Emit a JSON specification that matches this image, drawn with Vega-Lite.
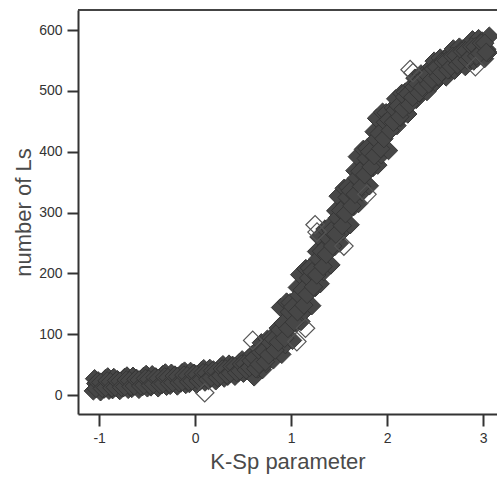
{
  "$schema": "https://vega.github.io/schema/vega-lite/v6.json",
  "autosize": "none",
  "width": 419,
  "height": 404,
  "padding": {"left": 78, "top": 10, "right": 0, "bottom": 63},
  "background": "white",
  "config": {
    "view": {"stroke": null},
    "axis": {
      "grid": false, "tickWidth": 2, "tickColor": "#333",
      "domainColor": "#333", "domainWidth": 2,
      "labelFont": "Liberation Sans", "labelFontSize": 14, "labelColor": "#333", "labelPadding": 5,
      "titleFont": "Liberation Sans", "titleFontSize": 22, "titleFontWeight": "normal", "titleColor": "#4a4a4a"
    },
    "axisX": {"tickSize": 12, "titlePadding": 6},
    "axisY": {"tickSize": 11, "titlePadding": 3}
  },
  "datasets": {
    "main": [
      {"x":-1.06,"y":7},{"x":-1.035,"y":19},{"x":-1.047,"y":27},
      {"x":-1.01,"y":23.5},{"x":-0.985,"y":5.5},{"x":-0.997,"y":17.5},
      {"x":-0.96,"y":13},{"x":-0.935,"y":27},{"x":-0.947,"y":10},
      {"x":-0.91,"y":30},{"x":-0.885,"y":16},{"x":-0.897,"y":8},
      {"x":-0.86,"y":9},{"x":-0.835,"y":21},{"x":-0.847,"y":29},
      {"x":-0.81,"y":25.5},{"x":-0.785,"y":7.5},{"x":-0.797,"y":19.5},
      {"x":-0.76,"y":15},{"x":-0.735,"y":29},{"x":-0.747,"y":12},
      {"x":-0.71,"y":31.5},{"x":-0.685,"y":17.5},{"x":-0.697,"y":9.5},
      {"x":-0.66,"y":11},{"x":-0.635,"y":23},{"x":-0.647,"y":31},
      {"x":-0.61,"y":27.5},{"x":-0.585,"y":9.5},{"x":-0.597,"y":21.5},
      {"x":-0.56,"y":17},{"x":-0.535,"y":31},{"x":-0.547,"y":14},
      {"x":-0.51,"y":34},{"x":-0.485,"y":20},{"x":-0.497,"y":12},
      {"x":-0.46,"y":13.5},{"x":-0.435,"y":25.5},{"x":-0.447,"y":33.5},
      {"x":-0.41,"y":30},{"x":-0.385,"y":12},{"x":-0.397,"y":24},
      {"x":-0.36,"y":20},{"x":-0.335,"y":34},{"x":-0.347,"y":17},
      {"x":-0.31,"y":36.5},{"x":-0.285,"y":22.5},{"x":-0.297,"y":14.5},
      {"x":-0.26,"y":16},{"x":-0.235,"y":28},{"x":-0.247,"y":36},
      {"x":-0.21,"y":33},{"x":-0.185,"y":15},{"x":-0.197,"y":27},
      {"x":-0.16,"y":23},{"x":-0.135,"y":37},{"x":-0.147,"y":20},
      {"x":-0.11,"y":39.5},{"x":-0.085,"y":25.5},{"x":-0.097,"y":17.5},
      {"x":-0.06,"y":19},{"x":-0.035,"y":31},{"x":-0.047,"y":39},
      {"x":-0.01,"y":36},{"x":0.015,"y":18},{"x":0.003,"y":30},
      {"x":0.04,"y":26},{"x":0.065,"y":40},{"x":0.053,"y":23},
      {"x":0.09,"y":43.5},{"x":0.115,"y":29.5},{"x":0.103,"y":21.5},
      {"x":0.14,"y":24},{"x":0.165,"y":36},{"x":0.153,"y":44},
      {"x":0.19,"y":41.5},{"x":0.215,"y":23.5},{"x":0.203,"y":35.5},
      {"x":0.24,"y":32},{"x":0.265,"y":46},{"x":0.253,"y":29},
      {"x":0.29,"y":50},{"x":0.315,"y":36},{"x":0.303,"y":28},
      {"x":0.34,"y":31},{"x":0.365,"y":43},{"x":0.353,"y":51},
      {"x":0.39,"y":49},{"x":0.415,"y":31},{"x":0.403,"y":43},
      {"x":0.44,"y":40},{"x":0.465,"y":54},{"x":0.453,"y":37},
      {"x":0.49,"y":58},{"x":0.515,"y":44},{"x":0.503,"y":36},
      {"x":0.54,"y":40},{"x":0.565,"y":52},{"x":0.553,"y":60},
      {"x":0.59,"y":66},{"x":0.615,"y":30},{"x":0.603,"y":54},
      {"x":0.64,"y":49},{"x":0.665,"y":77},{"x":0.653,"y":43},
      {"x":0.69,"y":86},{"x":0.715,"y":58},{"x":0.703,"y":42},
      {"x":0.74,"y":52},{"x":0.765,"y":76},{"x":0.753,"y":92},
      {"x":0.79,"y":94},{"x":0.815,"y":58},{"x":0.803,"y":82},
      {"x":0.84,"y":82},{"x":0.865,"y":110},{"x":0.853,"y":76},
      {"x":0.89,"y":144},{"x":0.915,"y":95},{"x":0.903,"y":67},
      {"x":0.94,"y":83},{"x":0.965,"y":125},{"x":0.953,"y":153},
      {"x":0.99,"y":152},{"x":1.015,"y":90},{"x":1.003,"y":132},
      {"x":1.04,"y":128},{"x":1.065,"y":177},{"x":1.053,"y":118},
      {"x":1.09,"y":198},{"x":1.115,"y":149},{"x":1.103,"y":121},
      {"x":1.14,"y":138},{"x":1.165,"y":180},{"x":1.153,"y":208},
      {"x":1.19,"y":209},{"x":1.215,"y":147},{"x":1.203,"y":189},
      {"x":1.24,"y":187},{"x":1.265,"y":236},{"x":1.253,"y":177},
      {"x":1.29,"y":260},{"x":1.315,"y":211},{"x":1.303,"y":183},
      {"x":1.34,"y":203},{"x":1.365,"y":245},{"x":1.353,"y":273},
      {"x":1.39,"y":276},{"x":1.415,"y":214},{"x":1.403,"y":256},
      {"x":1.44,"y":254},{"x":1.465,"y":303},{"x":1.453,"y":244},
      {"x":1.49,"y":327},{"x":1.515,"y":278},{"x":1.503,"y":250},
      {"x":1.54,"y":270},{"x":1.565,"y":312},{"x":1.553,"y":340},
      {"x":1.59,"y":342},{"x":1.615,"y":280},{"x":1.603,"y":322},
      {"x":1.64,"y":320},{"x":1.665,"y":369},{"x":1.653,"y":310},
      {"x":1.69,"y":392},{"x":1.715,"y":343},{"x":1.703,"y":315},
      {"x":1.74,"y":334},{"x":1.765,"y":376},{"x":1.753,"y":404},
      {"x":1.79,"y":406},{"x":1.815,"y":344},{"x":1.803,"y":386},
      {"x":1.84,"y":384},{"x":1.865,"y":433},{"x":1.853,"y":374},
      {"x":1.89,"y":455},{"x":1.915,"y":406},{"x":1.903,"y":378},
      {"x":1.94,"y":395},{"x":1.965,"y":437},{"x":1.953,"y":465},
      {"x":1.99,"y":464},{"x":2.015,"y":402},{"x":2.003,"y":444},
      {"x":2.04,"y":444},{"x":2.065,"y":472},{"x":2.053,"y":438},
      {"x":2.09,"y":487},{"x":2.115,"y":459},{"x":2.103,"y":443},
      {"x":2.14,"y":456},{"x":2.165,"y":480},{"x":2.153,"y":496},
      {"x":2.19,"y":498},{"x":2.215,"y":462},{"x":2.203,"y":486},
      {"x":2.24,"y":487},{"x":2.265,"y":509},{"x":2.253,"y":482},
      {"x":2.29,"y":521},{"x":2.315,"y":499},{"x":2.303,"y":486},
      {"x":2.34,"y":496},{"x":2.365,"y":515},{"x":2.353,"y":528},
      {"x":2.39,"y":528},{"x":2.415,"y":499},{"x":2.403,"y":519},
      {"x":2.44,"y":518},{"x":2.465,"y":540},{"x":2.453,"y":513},
      {"x":2.49,"y":549},{"x":2.515,"y":527},{"x":2.503,"y":514},
      {"x":2.54,"y":522},{"x":2.565,"y":541},{"x":2.553,"y":554},
      {"x":2.59,"y":552},{"x":2.615,"y":523},{"x":2.603,"y":543},
      {"x":2.64,"y":540},{"x":2.665,"y":562},{"x":2.653,"y":535},
      {"x":2.69,"y":569},{"x":2.715,"y":547},{"x":2.703,"y":534},
      {"x":2.74,"y":540},{"x":2.765,"y":559},{"x":2.753,"y":572},
      {"x":2.79,"y":569},{"x":2.815,"y":540},{"x":2.803,"y":560},
      {"x":2.84,"y":556},{"x":2.865,"y":578},{"x":2.853,"y":551},
      {"x":2.89,"y":584},{"x":2.915,"y":562},{"x":2.903,"y":549},
      {"x":2.94,"y":554},{"x":2.965,"y":573},{"x":2.953,"y":586},
      {"x":2.99,"y":582},{"x":3.015,"y":553},{"x":3.003,"y":573},
      {"x":3.04,"y":568},{"x":3.065,"y":590},{"x":3.053,"y":563},
      {"x":-1.033,"y":11},{"x":-1.017,"y":22},
      {"x":-0.983,"y":21},{"x":-0.967,"y":11},
      {"x":-0.933,"y":12.5},{"x":-0.917,"y":23.5},
      {"x":-0.883,"y":22},{"x":-0.867,"y":12},
      {"x":-0.833,"y":13},{"x":-0.817,"y":24},
      {"x":-0.783,"y":23},{"x":-0.767,"y":13},
      {"x":-0.733,"y":14},{"x":-0.717,"y":25},
      {"x":-0.683,"y":24},{"x":-0.667,"y":14},
      {"x":-0.633,"y":15},{"x":-0.617,"y":26},
      {"x":-0.583,"y":25},{"x":-0.567,"y":15},
      {"x":-0.533,"y":16.5},{"x":-0.517,"y":27.5},
      {"x":-0.483,"y":26},{"x":-0.467,"y":16},
      {"x":-0.433,"y":18},{"x":-0.417,"y":29},
      {"x":-0.383,"y":27.5},{"x":-0.367,"y":17.5},
      {"x":-0.333,"y":19},{"x":-0.317,"y":30},
      {"x":-0.283,"y":29},{"x":-0.267,"y":19},
      {"x":-0.233,"y":20.5},{"x":-0.217,"y":31.5},
      {"x":-0.183,"y":30.5},{"x":-0.167,"y":20.5},
      {"x":-0.133,"y":22},{"x":-0.117,"y":33},
      {"x":-0.083,"y":32},{"x":-0.067,"y":22},
      {"x":-0.033,"y":23.5},{"x":-0.017,"y":34.5},
      {"x":0.017,"y":33.5},{"x":0.033,"y":23.5},
      {"x":0.067,"y":26},{"x":0.083,"y":37},
      {"x":0.117,"y":36},{"x":0.133,"y":26},
      {"x":0.167,"y":29},{"x":0.183,"y":40},
      {"x":0.217,"y":39},{"x":0.233,"y":29},
      {"x":0.267,"y":32},{"x":0.283,"y":43},
      {"x":0.317,"y":43},{"x":0.333,"y":33},
      {"x":0.367,"y":36},{"x":0.383,"y":47},
      {"x":0.417,"y":47},{"x":0.433,"y":37},
      {"x":0.467,"y":40},{"x":0.483,"y":51},
      {"x":0.517,"y":51.5},{"x":0.533,"y":41.5},
      {"x":0.567,"y":45.5},{"x":0.583,"y":56.5},
      {"x":0.617,"y":61.5},{"x":0.633,"y":43.5},
      {"x":0.667,"y":50.5},{"x":0.683,"y":70.5},
      {"x":0.717,"y":73},{"x":0.733,"y":55},
      {"x":0.767,"y":66},{"x":0.783,"y":86},
      {"x":0.817,"y":92},{"x":0.833,"y":74},
      {"x":0.867,"y":87},{"x":0.883,"y":107},
      {"x":0.917,"y":118.5},{"x":0.933,"y":93.5},
      {"x":0.967,"y":109.5},{"x":0.983,"y":136.5},
      {"x":1.017,"y":145},{"x":1.033,"y":120},
      {"x":1.067,"y":137},{"x":1.083,"y":164},
      {"x":1.117,"y":173},{"x":1.133,"y":148},
      {"x":1.167,"y":165.5},{"x":1.183,"y":192.5},
      {"x":1.217,"y":203},{"x":1.233,"y":178},
      {"x":1.267,"y":197.5},{"x":1.283,"y":224.5},
      {"x":1.317,"y":236.5},{"x":1.333,"y":211.5},
      {"x":1.367,"y":231.5},{"x":1.383,"y":258.5},
      {"x":1.417,"y":270},{"x":1.433,"y":245},
      {"x":1.467,"y":264.5},{"x":1.483,"y":291.5},
      {"x":1.517,"y":303.5},{"x":1.533,"y":278.5},
      {"x":1.567,"y":298},{"x":1.583,"y":325},
      {"x":1.617,"y":336},{"x":1.633,"y":311},
      {"x":1.667,"y":330},{"x":1.683,"y":357},
      {"x":1.717,"y":368},{"x":1.733,"y":343},
      {"x":1.767,"y":362},{"x":1.783,"y":389},
      {"x":1.817,"y":400},{"x":1.833,"y":375},
      {"x":1.867,"y":393.5},{"x":1.883,"y":420.5},
      {"x":1.917,"y":430},{"x":1.933,"y":405},
      {"x":1.967,"y":421.5},{"x":1.983,"y":448.5},
      {"x":2.017,"y":453},{"x":2.033,"y":435},
      {"x":2.067,"y":448.5},{"x":2.083,"y":468.5},
      {"x":2.117,"y":475.5},{"x":2.133,"y":457.5},
      {"x":2.167,"y":470},{"x":2.183,"y":490},
      {"x":2.217,"y":495.5},{"x":2.233,"y":477.5},
      {"x":2.267,"y":489.5},{"x":2.283,"y":506.5},
      {"x":2.317,"y":512},{"x":2.333,"y":497},
      {"x":2.367,"y":505.5},{"x":2.383,"y":522.5},
      {"x":2.417,"y":526.5},{"x":2.433,"y":511.5},
      {"x":2.467,"y":519},{"x":2.483,"y":536},
      {"x":2.517,"y":539},{"x":2.533,"y":524},
      {"x":2.567,"y":530.5},{"x":2.583,"y":547.5},
      {"x":2.617,"y":549.5},{"x":2.633,"y":534.5},
      {"x":2.667,"y":540},{"x":2.683,"y":557},
      {"x":2.717,"y":558},{"x":2.733,"y":543},
      {"x":2.767,"y":548},{"x":2.783,"y":565},
      {"x":2.817,"y":566},{"x":2.833,"y":551},
      {"x":2.867,"y":555.5},{"x":2.883,"y":572.5},
      {"x":2.917,"y":572.5},{"x":2.933,"y":557.5},
      {"x":2.967,"y":561.5},{"x":2.983,"y":578.5},
      {"x":3.017,"y":578.5},{"x":3.033,"y":563.5}
    ],
    "open": [
      {"x":0.1,"y":4},{"x":0.6,"y":90},{"x":1.06,"y":88},{"x":1.15,"y":110},
      {"x":1.27,"y":268},{"x":1.25,"y":280},{"x":1.79,"y":330},
      {"x":2.24,"y":535},{"x":2.27,"y":530},{"x":2.92,"y":540},{"x":1.55,"y":245}
    ]
  },
  "layer": [
    {
      "data": {"name": "main"},
      "mark": {"type": "point", "shape": "diamond", "filled": true, "size": 340, "fill": "#474747", "stroke": "#363636", "strokeWidth": 1, "opacity": 1},
      "encoding": {
        "x": {
          "field": "x", "type": "quantitative", "title": "K-Sp parameter",
          "scale": {"domain": [-1.22, 3.145], "nice": false, "zero": false},
          "axis": {
            "values": [-1, 0, 1, 2, 3],
            "labelExpr": "datum.value < 0 ? '-' + abs(datum.value) : '' + datum.value"
          }
        },
        "y": {
          "field": "y", "type": "quantitative", "title": "number of Ls",
          "scale": {"domain": [-31, 633], "nice": false, "zero": false},
          "axis": {"values": [0, 100, 200, 300, 400, 500, 600]}
        }
      }
    },
    {
      "data": {"name": "open"},
      "mark": {"type": "point", "shape": "diamond", "filled": false, "size": 340, "stroke": "#555", "strokeWidth": 1.2, "opacity": 1},
      "encoding": {
        "x": {"field": "x", "type": "quantitative", "title": "K-Sp parameter"},
        "y": {"field": "y", "type": "quantitative", "title": "number of Ls"}
      }
    },
    {
      "data": {"values": [{"top": 633}]},
      "mark": {"type": "rule", "color": "#444", "strokeWidth": 2},
      "encoding": {"y": {"field": "top", "type": "quantitative", "title": "number of Ls"}}
    }
  ]
}
